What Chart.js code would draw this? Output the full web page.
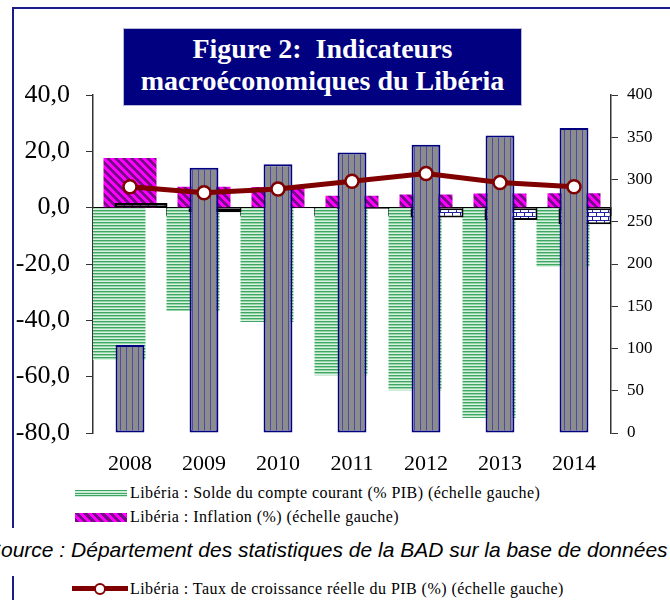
<!DOCTYPE html>
<html lang="fr">
<head>
<meta charset="utf-8">
<title>Indicateurs macroéconomiques du Libéria</title>
<script src="https://cdn.jsdelivr.net/npm/chart.js@4.4.1/dist/chart.umd.min.js"></script>
<style>
  html, body { margin: 0; padding: 0; background: #fff; }
  body { width: 670px; height: 600px; position: relative; overflow: hidden; font-family: "Liberation Serif", "Times New Roman", serif; }
  #chartBox { position: absolute; left: 0; top: 0; width: 670px; height: 480px; }
  .cadre { position: absolute; background: #1c1c8a; }
  #titre {
    position: absolute; left: 123px; top: 28px; width: 397px; height: 72px;
    background: #000080; border: 1px solid #b8b8d8;
    color: #fff; font-weight: bold; font-size: 28px; line-height: 32px;
    text-align: center; white-space: pre; padding-top: 4px; box-sizing: content-box;
  }
  .leg { position: absolute; font-family: "Liberation Serif", "Times New Roman", serif; font-size: 16px; line-height: 16px; letter-spacing: 0.45px; color: #000; white-space: nowrap; }
  .swatch { position: absolute; }
  #source { position: absolute; left: -13px; top: 539px; font-family: "Liberation Sans", Arial, sans-serif; font-style: italic; font-size: 21px; line-height: 22px; white-space: nowrap; color: #000; }
</style>
</head>
<body>
<div class="cadre" style="left:12px; top:7px; width:658px; height:2px;"></div>
<div class="cadre" style="left:12px; top:7px; width:2px; height:521px;"></div>
<div class="cadre" style="left:12px; top:576px; width:2px; height:24px;"></div>

<div id="chartBox"><canvas id="graphLiberia" width="670" height="480"></canvas></div>

<div id="titre">Figure 2:  Indicateurs
macroéconomiques du Libéria</div>

<div class="swatch" style="left:75px; top:490px; width:52px; height:7px; background: repeating-linear-gradient(to bottom, #3fa563 0px, #3fa563 1px, #cfeed8 1px, #cfeed8 2.5px);"></div>
<div class="leg" style="left:130px; top:485px;">Libéria : Solde du compte courant (% PIB) (échelle gauche)</div>

<div class="swatch" style="left:75px; top:513px; width:52px; height:9px; background: repeating-linear-gradient(45deg, #7a0a8a 0px, #7a0a8a 3px, #ff00ff 3px, #ff00ff 6px);"></div>
<div class="leg" style="left:130px; top:509px;">Libéria : Inflation (%) (échelle gauche)</div>

<div id="source">Source : Département des statistiques de la BAD sur la base de données</div>

<div class="swatch" style="left:72px; top:586px; width:56px; height:5px; background:#800000;"></div>
<div class="swatch" style="left:94px; top:583px; width:8px; height:8px; border:2px solid #800000; border-radius:50%; background:#fff;"></div>
<div class="leg" style="left:130px; top:581px;">Libéria : Taux de croissance réelle du PIB (%) (échelle gauche)</div>

<script>
// Données
const annees = ['2008', '2009', '2010', '2011', '2012', '2013', '2014'];
const soldeCompteCourant = [-54.1, -36.7, -40.6, -59.5, -64.8, -74.7, -21.1];
const inflation = [17.6, 7.4, 7.3, 4.2, 4.7, 5.0, 5.1];
const croissancePIB = [7.4, 5.3, 6.6, 9.4, 12.1, 8.9, 7.4];
// séries sans entrée de légende visible
const serieBriques = [1.7, -1.6, -0.3, -0.5, -3.5, -4.4, -5.9];
const serieDroite = [104, 314, 318, 332, 341, 352, 361];

const ticksGauche = [-80, -60, -40, -20, 0, 20, 40];
const ticksDroite = [0, 50, 100, 150, 200, 250, 300, 350, 400];

const policeSerif = '"Liberation Serif", "Times New Roman", serif';

const canvas = document.getElementById('graphLiberia');
const ctx = canvas.getContext('2d');

// Motifs de remplissage (hachures façon Excel)
function creerMotif(largeur, hauteur, dessiner) {
    const c = document.createElement('canvas');
    c.width = largeur;
    c.height = hauteur;
    dessiner(c.getContext('2d'));
    return ctx.createPattern(c, 'repeat');
}

const motifVert = creerMotif(1, 3, function(g) {
    g.fillStyle = '#d9f1e0'; g.fillRect(0, 0, 1, 3);
    g.fillStyle = '#3fa563'; g.fillRect(0, 0, 1, 1);
    g.fillStyle = '#96d6a8'; g.fillRect(0, 1, 1, 1);
});

const motifMagenta = creerMotif(8, 8, function(g) {
    for (let x = 0; x < 8; x++) {
        for (let y = 0; y < 8; y++) {
            g.fillStyle = ((x - y + 8) % 8) < 4 ? '#ff00ff' : '#7a0a8a';
            g.fillRect(x, y, 1, 1);
        }
    }
});

const motifGris = creerMotif(6, 1, function(g) {
    g.fillStyle = '#8c8c8c'; g.fillRect(0, 0, 6, 1);
    g.fillStyle = '#4a4aa8'; g.fillRect(0, 0, 1, 1);
});

const motifBriques = creerMotif(8, 8, function(g) {
    g.fillStyle = '#ffffff'; g.fillRect(0, 0, 8, 8);
    g.fillStyle = '#2020a0';
    g.fillRect(0, 0, 8, 1);
    g.fillRect(0, 4, 8, 1);
    g.fillRect(0, 1, 1, 3);
    g.fillRect(4, 5, 1, 3);
});

// Les barres se chevauchent comme dans Excel : chaque série a son axe x
// caché (linéaire sur les années), décalé d'une fraction de catégorie.
const decalage = 11 / 74;
const premiereAnnee = +annees[0];
const derniereAnnee = +annees[annees.length - 1];

function axeDecale(shift) {
    return {
        type: 'linear',
        axis: 'x',
        display: false,
        offset: false,
        min: premiereAnnee - 0.5 - shift,
        max: derniereAnnee + 0.5 - shift,
        afterBuildTicks: function(scale) {
            scale.ticks = annees.map(function(a) { return { value: +a }; });
        }
    };
}

new Chart(ctx, {
    type: 'bar',
    data: {
        labels: annees,
        datasets: [
            {
                type: 'line',
                label: 'Libéria : Taux de croissance réelle du PIB (%) (échelle gauche)',
                data: croissancePIB,
                xAxisID: 'x',
                yAxisID: 'y',
                order: 0,
                borderColor: '#800000',
                borderWidth: 5,
                pointRadius: 6.5,
                pointHoverRadius: 6.5,
                pointBackgroundColor: '#ffffff',
                pointBorderColor: '#800000',
                pointBorderWidth: 2.5,
                tension: 0
            },
            {
                label: 'Échelle droite',
                data: serieDroite,
                xAxisID: 'xCentre',
                yAxisID: 'y2',
                order: 1,
                barPercentage: 0.39,
                backgroundColor: motifGris,
                borderColor: '#000080',
                borderWidth: 2,
                borderSkipped: false
            },
            {
                label: 'Briques',
                data: serieBriques,
                xAxisID: 'xDroite',
                yAxisID: 'y',
                order: 2,
                backgroundColor: motifBriques,
                borderColor: '#000000',
                borderWidth: 2,
                borderSkipped: false
            },
            {
                label: 'Libéria : Inflation (%) (échelle gauche)',
                data: inflation,
                xAxisID: 'xCentre',
                yAxisID: 'y',
                order: 3,
                backgroundColor: motifMagenta,
                borderWidth: 0
            },
            {
                label: 'Libéria : Solde du compte courant (% PIB) (échelle gauche)',
                data: soldeCompteCourant,
                xAxisID: 'xGauche',
                yAxisID: 'y',
                order: 4,
                backgroundColor: motifVert,
                borderWidth: 0
            }
        ]
    },
    options: {
        responsive: false,
        animation: false,
        datasets: {
            bar: {
                grouped: false,
                categoryPercentage: 1,
                barPercentage: 53 / 74
            }
        },
        layout: {
            padding: { top: 95, left: 0, right: 0, bottom: 0 }
        },
        plugins: {
            legend: { display: false },
            tooltip: { enabled: false }
        },
        scales: {
            x: {
                type: 'category',
                position: 'bottom',
                offset: true,
                grid: { display: false },
                border: { display: false },
                ticks: {
                    color: '#000',
                    padding: 10,
                    font: { family: policeSerif, size: 22 }
                },
                afterFit: function(scale) { scale.height = 47; }
            },
            xGauche: axeDecale(-decalage),
            xCentre: axeDecale(0),
            xDroite: axeDecale(decalage),
            xz: {
                type: 'category',
                axis: 'x',
                position: { y: 0 },
                offset: true,
                grid: {
                    offset: true,
                    drawOnChartArea: false,
                    tickLength: 8,
                    color: '#000',
                    lineWidth: 1.5
                },
                border: { display: true, color: '#000', width: 1 },
                ticks: { display: false }
            },
            y: {
                type: 'linear',
                position: 'left',
                min: ticksGauche[0],
                max: ticksGauche[ticksGauche.length - 1],
                ticks: {
                    stepSize: 20,
                    color: '#000',
                    padding: 16,
                    font: { family: policeSerif, size: 26 },
                    callback: function(v) { return v.toFixed(1).replace('.', ','); }
                },
                grid: { drawOnChartArea: false, tickLength: 7, color: '#333' },
                border: { display: true, color: '#333', width: 1.5 },
                afterFit: function(scale) { scale.width = 93; }
            },
            y2: {
                type: 'linear',
                position: 'right',
                min: ticksDroite[0],
                max: ticksDroite[ticksDroite.length - 1],
                ticks: {
                    stepSize: 50,
                    color: '#000',
                    padding: 9,
                    font: { family: policeSerif, size: 17 }
                },
                grid: { drawOnChartArea: false, tickLength: 7, color: '#333' },
                border: { display: true, color: '#333', width: 1.5 },
                afterFit: function(scale) { scale.width = 59; }
            }
        }
    }
});
</script>
</body>
</html>
